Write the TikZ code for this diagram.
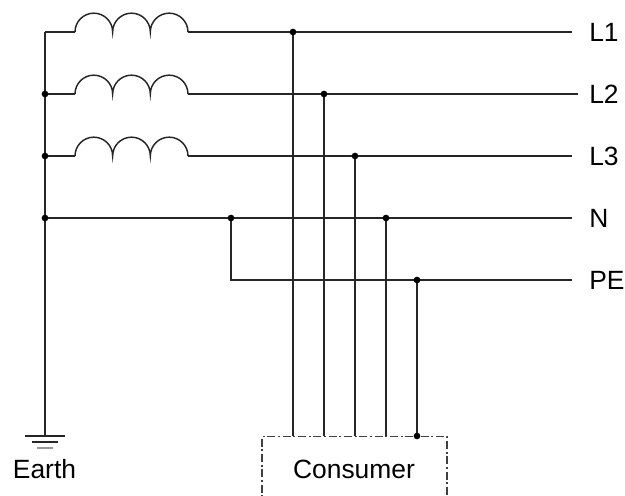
\documentclass[tikz,border=0pt]{standalone}
\usepackage{fontspec}
\setmainfont{Liberation Sans}
\begin{document}
\begin{tikzpicture}[x=.75pt,y=.75pt,
	wire/.style={line width=1.1pt,draw=black!85},
	dot/.style={circle,fill=black,inner sep=0pt,minimum size=5pt},
	lbl/.style={font=\fontsize{19.8}{23}\selectfont,inner sep=0pt},
	frame/.style={line width=.8pt,draw=black!75,dash pattern=on 6pt off 2pt on 1.5pt off 2pt}]
	\useasboundingbox (0,0) rectangle (625,-496);
	\foreach \n/\y/\e in {L1/32/572,L2/94/578,L3/156/572,N/218/572,PE/280/572}{
		\coordinate (e\n) at (\e,-\y);
		\node[lbl,anchor=west] (\n) at (589,-\y) {\n};
	}
	\coordinate (top) at (45,-32);
	\coordinate (gnd) at (45,-436);
	\coordinate (jL2) at (45,-94);
	\coordinate (jL3) at (45,-156);
	\coordinate (jN) at (45,-218);
	\draw[wire] (top) -- (gnd);
	\foreach \n/\y in {L1/32,L2/94,L3/156}{
		\coordinate (a\n) at (75,-\y);
		\coordinate (b\n) at (188,-\y);
		\draw[wire] (a\n) arc (180:0:18.83) arc (180:0:18.83) arc (180:0:18.83);
		\draw[wire] (b\n) -- (e\n);
	}
	\draw[wire] (top) -- (aL1);
	\draw[wire] (jL2) -- (aL2);
	\draw[wire] (jL3) -- (aL3);
	\draw[wire] (jN) -- (eN);
	\foreach \j in {jL2,jL3,jN} \node[dot] at (\j) {};
	% neutral bridged to PE
	\coordinate (nb) at (231,-218);
	\coordinate (pb) at (231,-280);
	\draw[wire] (nb) -- (pb) -- (ePE);
	\node[dot] at (nb) {};
	% consumer
	\node[frame,anchor=north,minimum width=138.75pt,minimum height=66pt] (cons) at (354.5,-436) {};
	\node[lbl,anchor=base] (ctext) at (354,-478) {Consumer};
	\foreach \n/\x/\y in {L1/293/32,L2/324/94,L3/355/156,N/386/218,PE/417/280}{
		\coordinate (t\n) at (\x,-\y);
		\draw[wire] (t\n) -- (t\n |- cons.north);
		\node[dot] at (t\n) {};
	}
	\node[dot] at (tPE |- cons.north) {};
	% earth
	\draw[wire] (gnd) ++(-20,0) -- ++(40,0);
	\draw[wire] (gnd) ++(-13,-6) -- ++(26,0);
	\draw[wire,draw=black!40] (gnd) ++(-8,-12) -- ++(16,0);
	\node[lbl,anchor=base] (earth) at (44.5,-478) {Earth};
\end{tikzpicture}
\end{document}
